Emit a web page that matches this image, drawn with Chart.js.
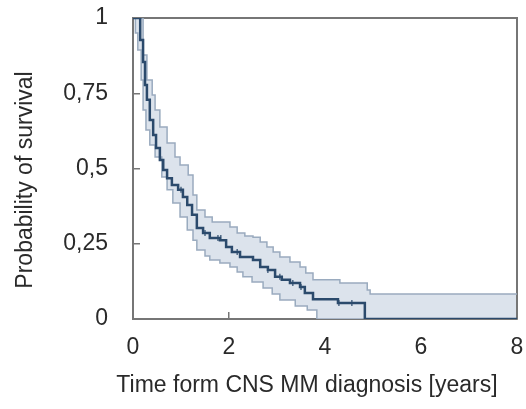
<!DOCTYPE html>
<html>
<head>
<meta charset="utf-8">
<script src="https://cdn.jsdelivr.net/npm/chart.js@4"></script>
<style>
  body { margin: 0; background: #fff; }
</style>
</head>
<body>
<canvas id="km" width="526" height="409"></canvas>
<script>
// Kaplan-Meier estimate (years, survival)
const survTimes  = [0, 0.08, 0.15, 0.21, 0.25, 0.29, 0.35, 0.42, 0.48, 0.56, 0.63, 0.71, 0.81, 0.94, 1.04, 1.13, 1.23, 1.33, 1.46, 1.60, 1.81, 1.94, 2.06, 2.23, 2.50, 2.65, 2.81, 2.96, 3.10, 3.27, 3.48, 3.58, 3.75, 4.27, 4.83, 8];
const survValues = [1, 1, 0.927, 0.854, 0.777, 0.728, 0.661, 0.611, 0.568, 0.528, 0.495, 0.468, 0.445, 0.429, 0.405, 0.379, 0.346, 0.302, 0.286, 0.269, 0.262, 0.239, 0.223, 0.206, 0.196, 0.173, 0.163, 0.140, 0.130, 0.120, 0.106, 0.086, 0.066, 0.053, 0, 0];

// confidence band
const upperTimes  = [0, 0.10, 0.21, 0.29, 0.40, 0.46, 0.56, 0.71, 0.875, 0.98, 1.15, 1.25, 1.33, 1.50, 1.65, 2.02, 2.17, 2.33, 2.50, 2.65, 2.79, 2.92, 3.06, 3.27, 3.48, 3.60, 3.75, 4.31, 4.88, 4.94, 8];
const upperValues = [1, 1, 0.877, 0.794, 0.744, 0.694, 0.638, 0.585, 0.538, 0.512, 0.478, 0.412, 0.362, 0.339, 0.322, 0.306, 0.286, 0.276, 0.272, 0.256, 0.239, 0.223, 0.206, 0.189, 0.173, 0.153, 0.130, 0.120, 0.096, 0.083, 0.083];
const lowerTimes  = [0, 0.05, 0.10, 0.17, 0.21, 0.27, 0.35, 0.46, 0.60, 0.71, 0.83, 0.98, 1.13, 1.25, 1.33, 1.50, 1.60, 1.81, 2.02, 2.17, 2.29, 2.48, 2.71, 2.90, 3.06, 3.38, 3.63, 3.83, 8];
const lowerValues = [1, 0.95, 0.894, 0.794, 0.694, 0.628, 0.578, 0.538, 0.472, 0.429, 0.385, 0.339, 0.296, 0.262, 0.229, 0.209, 0.196, 0.186, 0.173, 0.156, 0.140, 0.123, 0.103, 0.083, 0.063, 0.043, 0.030, 0, 0];

// censored observations
const censorTimes  = [1.00, 1.50, 1.77, 1.83, 2.17, 2.81, 3.06, 3.33, 3.50, 4.29, 4.56];
const censorValues = [0.429, 0.286, 0.269, 0.269, 0.223, 0.163, 0.140, 0.120, 0.106, 0.053, 0.053];

const xTicks = [0, 2, 4, 6, 8];
const yTicks = [0, 0.25, 0.5, 0.75, 1];
const yTickLabels = ["0", "0,25", "0,5", "0,75", "1"];
const xTitle = "Time form CNS MM diagnosis [years]";
const yTitle = "Probability of survival";

const pts = (xs, ys) => xs.map((x, i) => ({x: x, y: ys[i]}));
const FONT = '"Liberation Sans", Arial, sans-serif';
const AXIS = "#767676";
const TEXT = "#2a2a2a";

const frame = {
  id: "frame",
  beforeDatasetsDraw(chart) {
    const a = chart.chartArea, ctx = chart.ctx;
    ctx.save();
    ctx.strokeStyle = AXIS;
    ctx.lineWidth = 2;
    ctx.beginPath();
    ctx.moveTo(a.left, a.top);
    ctx.lineTo(a.right, a.top);
    ctx.lineTo(a.right, a.bottom);
    ctx.stroke();
    ctx.restore();
  },
  afterDraw(chart) {
    const ctx = chart.ctx;
    ctx.save();
    ctx.font = "23px " + FONT;
    ctx.fillStyle = TEXT;
    ctx.textAlign = "center";
    ctx.textBaseline = "middle";
    ctx.fillText(xTitle, 307, 386);
    ctx.translate(26, 180);
    ctx.rotate(-Math.PI / 2);
    ctx.fillText(yTitle, 0, 0);
    ctx.restore();
  }
};

new Chart("km", {
  type: "line",
  data: {
    datasets: [
      {
        data: pts(survTimes, survValues),
        stepped: true,
        borderColor: "#2b4a6c",
        borderWidth: 2.5,
        pointRadius: 0,
        fill: false
      },
      {
        data: pts(censorTimes, censorValues),
        showLine: false,
        pointStyle: "line",
        rotation: 90,
        pointRadius: 3,
        pointBorderWidth: 1.2,
        borderColor: "#2b4a6c"
      },
      {
        data: pts(upperTimes, upperValues),
        stepped: true,
        borderColor: "#9aabbf",
        borderWidth: 1.5,
        pointRadius: 0,
        backgroundColor: "#dce3ec",
        fill: "+1"
      },
      {
        data: pts(lowerTimes, lowerValues),
        stepped: true,
        borderColor: "#9aabbf",
        borderWidth: 1.5,
        pointRadius: 0,
        fill: false
      }
    ]
  },
  plugins: [frame],
  options: {
    responsive: false,
    animation: false,
    layout: { padding: { left: 0, right: 9, top: 18, bottom: 0 } },
    plugins: {
      legend: { display: false },
      tooltip: { enabled: false },
      filler: { drawTime: "beforeDatasetsDraw" }
    },
    scales: {
      x: {
        type: "linear",
        min: 0,
        max: 8,
        afterFit: s => { s.height = 90; s.paddingLeft = 0; s.paddingRight = 0; },
        afterBuildTicks: s => { s.ticks = xTicks.map(v => ({value: v})); },
        grid: { drawOnChartArea: false, tickLength: -7, color: AXIS, lineWidth: 1.5 },
        border: { color: AXIS, width: 2 },
        ticks: { padding: 22, color: TEXT, font: { family: FONT, size: 23 } }
      },
      y: {
        min: 0,
        max: 1,
        afterFit: s => { s.width = 133; s.paddingTop = 0; s.paddingBottom = 0; },
        afterBuildTicks: s => { s.ticks = yTicks.map(v => ({value: v})); },
        grid: { drawOnChartArea: false, tickLength: -7, color: AXIS, lineWidth: 1.5 },
        border: { color: AXIS, width: 2 },
        ticks: {
          padding: 32,
          color: TEXT,
          font: { family: FONT, size: 23 },
          callback: (v) => yTickLabels[yTicks.indexOf(v)]
        }
      }
    }
  }
});
</script>
</body>
</html>
